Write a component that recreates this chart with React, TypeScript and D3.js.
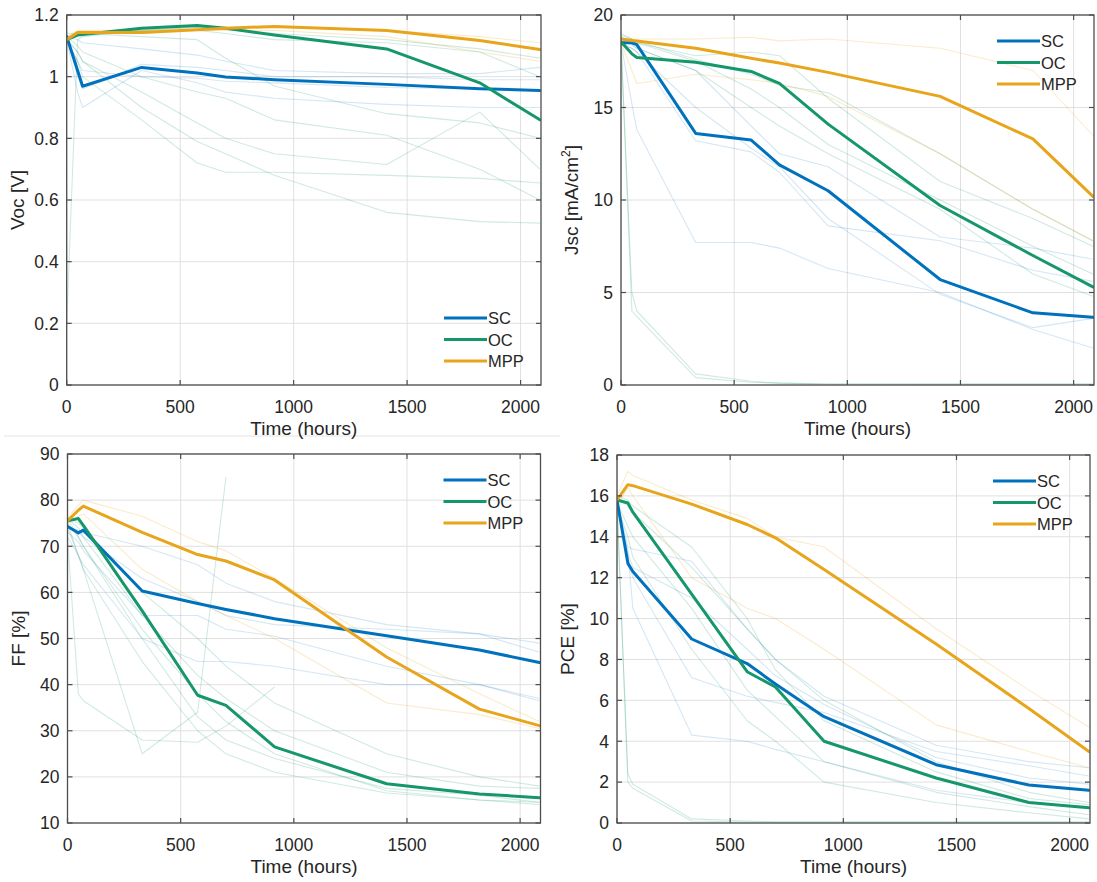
import React from 'react';
import * as d3 from 'd3';

// ---------- data ----------
const TIMES = [0, 48, 70, 330, 575, 700, 915, 1410, 1820, 2085];
const SERIES_NAMES = ['SC', 'OC', 'MPP'];
const X_TICKS = [0, 500, 1000, 1500, 2000];

// Voc [V]
const VOC_SC = [1.13, 1.02, 0.969, 1.03, 1.012, 0.999, 0.99, 0.975, 0.961, 0.955];
const VOC_OC = [1.12, 1.135, 1.137, 1.157, 1.166, 1.157, 1.135, 1.09, 0.98, 0.86];
const VOC_MPP = [1.12, 1.143, 1.143, 1.143, 1.152, 1.157, 1.163, 1.15, 1.117, 1.088];
const VOC_FAINT_SC = [
  [1.12, 0.95, 0.9, 1.02, 0.98, 0.95, 0.93, 0.91, 0.9, 0.9],
  [1.13, 1.0, 0.96, 1.04, 1.03, 1.02, 1.0, 1.0, 0.99, 0.99],
  [1.13, 1.12, 1.11, 1.09, 1.07, 1.05, 1.02, 1.01, 1.01, 1.03],
  [1.12, 1.05, 1.02, 1.0, 0.995, 0.985, 0.98, 0.965, 0.96, 0.955],
];
const VOC_FAINT_OC = [
  [1.12, 1.08, 1.05, 0.9, 0.79, 0.75, 0.68, 0.56, 0.53, 0.525],
  [1.12, 1.05, 1.0, 0.86, 0.72, 0.69, 0.69, 0.68, 0.67, 0.655],
  [1.12, 1.08, 1.05, 0.95, 0.85, 0.8, 0.75, 0.715, 0.885, 0.7],
  [1.13, 1.1, 1.08, 1.0, 0.95, 0.93, 0.86, 0.81, 0.7, 0.6],
  [1.14, 1.14, 1.14, 1.13, 1.12, 1.06, 0.97, 0.88, 0.85, 0.8],
  [0.2, 1.12, 1.13, 1.15, 1.16, 1.155, 1.14, 1.12, 1.09, 1.06],
  [1.13, 1.14, 1.14, 1.15, 1.15, 1.14, 1.12, 1.11, 1.08, 1.0],
];
const VOC_FAINT_MPP = [
  [1.13, 1.15, 1.15, 1.15, 1.16, 1.16, 1.16, 1.15, 1.13, 1.11],
  [1.12, 1.14, 1.14, 1.14, 1.15, 1.15, 1.15, 1.13, 1.08, 1.05],
];
const VOC_TICKS = [0, 0.2, 0.4, 0.6, 0.8, 1, 1.2];

// Jsc [mA/cm2]
const JSC_SC = [18.5, 18.5, 18.4, 13.6, 13.24, 11.9, 10.5, 5.7, 3.9, 3.66];
const JSC_OC = [18.56, 17.9, 17.7, 17.45, 16.95, 16.3, 14.1, 9.7, 7.0, 5.3];
const JSC_MPP = [18.7, 18.62, 18.6, 18.2, 17.66, 17.4, 16.9, 15.6, 13.3, 10.2];
const JSC_FAINT_SC = [
  [18.5, 15.2, 13.8, 7.7, 7.7, 7.4, 6.3, 5.0, 3.0, 2.0],
  [18.5, 18.2, 18.0, 13.2, 12.6, 11.5, 8.6, 7.8, 6.2, 5.6],
  [18.6, 18.4, 18.2, 17.0, 14.0, 12.5, 11.8, 8.0, 7.4, 6.8],
  [18.4, 18.2, 18.0, 15.0, 12.8, 11.8, 9.0, 4.9, 3.1, 3.6],
];
const JSC_FAINT_OC = [
  [18.5, 5.0, 4.0, 0.6, 0.2, 0.1, 0.05, 0.05, 0.05, 0.05],
  [18.6, 4.0, 3.7, 0.4, 0.15, 0.1, 0.05, 0.05, 0.05, 0.05],
  [19.0, 18.7, 18.5, 17.5, 16.0, 15.0, 13.0, 10.0, 7.5, 6.0],
  [18.8, 18.6, 18.5, 17.8, 18.0, 17.8, 15.5, 11.0, 9.0, 7.5],
  [18.6, 18.4, 18.2, 17.0, 15.0, 14.0, 12.5, 9.5, 6.0, 4.8],
  [18.9, 18.7, 18.6, 17.6, 16.8, 16.2, 15.8, 12.5, 9.5, 7.8],
];
const JSC_FAINT_MPP = [
  [18.7, 18.7, 18.7, 18.7, 18.8, 18.6, 18.7, 18.2, 17.0, 13.5],
  [18.5, 17.0, 16.3, 16.8, 16.5, 16.3, 15.6, 12.5, 9.5, 7.8],
];
const JSC_TICKS = [0, 5, 10, 15, 20];

// FF [%]
const FF_SC = [74.3, 72.9, 73.5, 60.3, 57.6, 56.3, 54.3, 50.6, 47.5, 44.8];
const FF_OC = [75.5, 76.0, 74.5, 56, 37.7, 35.5, 26.5, 18.5, 16.3, 15.5];
const FF_MPP = [75.5, 77.8, 78.7, 73.0, 68.2, 66.8, 62.7, 46.0, 34.7, 31.1];
const FF_FAINT_SC = [
  [74, 73.5, 73, 70, 66, 62, 58, 53, 51, 49],
  [73, 71, 69, 55, 55, 52, 50.5, 44, 40, 37],
  [72, 68, 66, 50, 45, 45, 44, 40, 40, 36.5],
  [74, 73, 72, 63, 58, 55, 53, 52, 51, 47],
];
const FF_FAINT_OC = [
  [75, 68, 65, 25, 34, 85, null, null, null, null],
  [72, 38, 36.5, 28, 27.5, 31, 39.5, null, null, null],
  [76, 72, 70, 50, 33, 28, 24, 17.5, 16, 14.5],
  [76, 74, 72, 55, 42, 37, 30, 21, 18, 17.5],
  [75, 72, 70, 52, 38, 32, 25, 17, 15, 14],
  [74, 68, 65, 45, 30, 25, 21, 16.5, 15, 14.5],
  [76, 75, 74, 60, 50, 44, 36, 25, 20, 18],
];
const FF_FAINT_MPP = [
  [76, 79, 80, 76.5, 71, 69, 63, 48, 38, 32],
  [75, 76.5, 77, 65, 58, 55, 50, 36, 33.5, 30.5],
];
const FF_TICKS = [10, 20, 30, 40, 50, 60, 70, 80, 90];

// PCE [%]
const PCE_SC = [15.8, 12.7, 12.3, 9.0, 7.8, 6.8, 5.2, 2.85, 1.86, 1.6];
const PCE_OC = [15.8, 15.65, 15.2, 11.2, 7.4, 6.65, 4.0, 2.2, 1.0, 0.75];
const PCE_MPP = [15.8, 16.55, 16.5, 15.6, 14.6, 13.95, 12.4, 8.75, 5.6, 3.5];
const PCE_FAINT_SC = [
  [15.5, 13.3, 10.5, 4.3, 4.0, 3.6, 3.0, 1.6, 1.0, 0.8],
  [15.8, 13.5, 13.4, 12.8, 9.5, 8.0, 6.2, 3.8, 3.0, 2.7],
  [15.7, 13.0, 12.0, 7.1, 6.2, 5.9, 5.4, 3.5, 2.8, 2.3],
  [15.6, 13.2, 12.5, 11.0, 8.5, 7.2, 5.8, 3.2, 2.2, 1.9],
];
const PCE_FAINT_OC = [
  [15.8, 2.0, 1.7, 0.1, 0.05, 0.05, 0.05, 0.05, 0.05, 0.05],
  [15.5, 2.4, 1.9, 0.2, 0.1, 0.05, 0.05, 0.05, 0.05, 0.05],
  [15.9, 15.5, 15.2, 12.5, 9.5, 8.0, 6.0, 3.0, 1.5, 1.0],
  [15.7, 14.5, 14.0, 10.5, 6.5, 5.2, 3.0, 1.5, 0.8, 0.4],
  [16.0, 15.8, 15.5, 13.5, 10.0, 7.5, 5.0, 2.5, 1.2, 0.9],
  [15.5, 14.0, 13.0, 8.5, 5.0, 4.0, 2.0, 1.0, 0.5, 0.2],
];
const PCE_FAINT_MPP = [
  [16.0, 17.2, 17.0, 15.8, 14.9, 14.0, 13.5, 9.5, 6.5, 4.7],
  [15.5, 16.4, 16.0, 12.0, 10.5, 10.0, 8.5, 4.8, 3.5, 2.7],
];
const PCE_TICKS = [0, 2, 4, 6, 8, 10, 12, 14, 16, 18];

// ---------- styles ----------
const COLORS = ['#0072BD', '#15976A', '#E8A51B'];
const FAINT_COLORS = ['rgba(0,114,189,0.17)', 'rgba(21,151,106,0.2)', 'rgba(232,165,27,0.22)'];
const FONT = '"Liberation Sans", Arial, Helvetica, sans-serif';
const TEXT = '#262626';
const AXIS = '#4d4d4d';
const GRID = '#e0e0e0';

const PANELS = [
  { id: 'voc', box: [66.7, 541, 15, 385], yDomain: [0, 1.2], yTicks: VOC_TICKS, label: 'Voc [V]',
    main: [VOC_SC, VOC_OC, VOC_MPP], faint: [VOC_FAINT_SC, VOC_FAINT_OC, VOC_FAINT_MPP], legend: 'bottom' },
  { id: 'jsc', box: [621, 1094, 15, 385], yDomain: [0, 20], yTicks: JSC_TICKS, label: 'JSC',
    main: [JSC_SC, JSC_OC, JSC_MPP], faint: [JSC_FAINT_SC, JSC_FAINT_OC, JSC_FAINT_MPP], legend: 'top' },
  { id: 'ff', box: [67.5, 540.5, 454, 823], yDomain: [10, 90], yTicks: FF_TICKS, label: 'FF [%]',
    main: [FF_SC, FF_OC, FF_MPP], faint: [FF_FAINT_SC, FF_FAINT_OC, FF_FAINT_MPP], legend: 'top' },
  { id: 'pce', box: [617, 1090, 455, 823], yDomain: [0, 18], yTicks: PCE_TICKS, label: 'PCE [%]',
    main: [PCE_SC, PCE_OC, PCE_MPP], faint: [PCE_FAINT_SC, PCE_FAINT_OC, PCE_FAINT_MPP], legend: 'top' },
];

function Panel({ p }: { p: any }) {
  const [left, right, top, bottom] = p.box;
  const x = d3.scaleLinear().domain([0, 2090]).range([left, right]);
  const y = d3.scaleLinear().domain(p.yDomain).range([bottom, top]);
  const line = d3
    .line<any>()
    .defined((d: any) => d[1] !== null && d[1] !== undefined)
    .x((d: any) => x(d[0]))
    .y((d: any) => y(d[1]));
  const toPts = (vals: (number | null)[]) => vals.map((v, i) => [TIMES[i], v]);
  const fmt = d3.format('~g');
  const tl = 5;
  const cy = (top + bottom) / 2;
  const lx = left - 43;
  const legendY0 = p.legend === 'top' ? top + 26 : bottom - 67;
  const legX1 = right - 97;
  const legX2 = right - 54;
  return (
    <g>
      <defs>
        <clipPath id={`clip-${p.id}`}>
          <rect x={left} y={top} width={right - left} height={bottom - top} />
        </clipPath>
      </defs>
      <rect x={left} y={top} width={right - left} height={bottom - top} fill="#fff" />
      {X_TICKS.map((t) => (
        <line key={'gx' + t} x1={x(t)} x2={x(t)} y1={top} y2={bottom} stroke={GRID} strokeWidth={1} />
      ))}
      {p.yTicks.map((t: number) => (
        <line key={'gy' + t} x1={left} x2={right} y1={y(t)} y2={y(t)} stroke={GRID} strokeWidth={1} />
      ))}
      <g clipPath={`url(#clip-${p.id})`}>
        {p.faint.map((group: any[], gi: number) =>
          group.map((vals: any[], i: number) => (
            <path key={`f${gi}-${i}`} d={line(toPts(vals) as any) || ''} fill="none"
              stroke={FAINT_COLORS[gi]} strokeWidth={1.1} strokeLinejoin="round" />
          ))
        )}
        {p.main.map((vals: number[], i: number) => (
          <path key={'m' + i} d={line(toPts(vals) as any) || ''} fill="none" stroke={COLORS[i]}
            strokeWidth={3} strokeLinejoin="round" strokeLinecap="round" />
        ))}
      </g>
      <rect x={left} y={top} width={right - left} height={bottom - top} fill="none" stroke={AXIS} strokeWidth={1.3} />
      {X_TICKS.map((t) => (
        <g key={'tx' + t}>
          <line x1={x(t)} x2={x(t)} y1={bottom} y2={bottom - tl} stroke={AXIS} strokeWidth={1.2} />
          <line x1={x(t)} x2={x(t)} y1={top} y2={top + tl} stroke={AXIS} strokeWidth={1.2} />
          <text x={x(t)} y={bottom + 28} textAnchor="middle" fontSize={17.5} fill={TEXT} fontFamily={FONT}>
            {t}
          </text>
        </g>
      ))}
      {p.yTicks.map((t: number) => (
        <g key={'ty' + t}>
          <line x1={left} x2={left + tl} y1={y(t)} y2={y(t)} stroke={AXIS} strokeWidth={1.2} />
          <line x1={right} x2={right - tl} y1={y(t)} y2={y(t)} stroke={AXIS} strokeWidth={1.2} />
          <text x={left - 8} y={y(t) + 6.3} textAnchor="end" fontSize={17.5} fill={TEXT} fontFamily={FONT}>
            {fmt(t)}
          </text>
        </g>
      ))}
      <text x={(left + right) / 2} y={bottom + 50} textAnchor="middle" fontSize={19} fill={TEXT} fontFamily={FONT}>
        Time (hours)
      </text>
      <text transform={`translate(${lx},${cy}) rotate(-90)`} textAnchor="middle" fontSize={19} fill={TEXT} fontFamily={FONT}>
        {p.label === 'JSC' ? (
          <>
            Jsc [mA/cm<tspan fontSize={12} dy={-8}>2</tspan><tspan dy={8}>]</tspan>
          </>
        ) : (
          p.label
        )}
      </text>
      {SERIES_NAMES.map((n, i) => (
        <g key={'lg' + n}>
          <line x1={legX1} x2={legX2} y1={legendY0 + i * 21.5} y2={legendY0 + i * 21.5} stroke={COLORS[i]} strokeWidth={3} />
          <text x={legX2 + 1} y={legendY0 + i * 21.5 + 6} fontSize={16.5} fill={TEXT} fontFamily={FONT}>
            {n}
          </text>
        </g>
      ))}
    </g>
  );
}

export default function App() {
  return (
    <svg width={1097} height={882} style={{ position: 'absolute', left: 0, top: 0, display: 'block', background: '#fff' }}>
      <rect x={0} y={0} width={1097} height={882} fill="#fff" />
      <line x1={4} x2={560} y1={436} y2={436} stroke="#ececec" strokeWidth={1.5} />
      {PANELS.map((p) => (
        <Panel key={p.id} p={p} />
      ))}
    </svg>
  );
}
